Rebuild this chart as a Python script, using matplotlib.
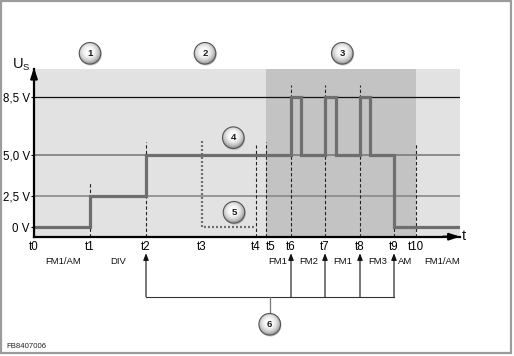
import numpy as np
import matplotlib
matplotlib.use('Agg')
import matplotlib.pyplot as plt
from matplotlib.patches import Circle, Rectangle

plt.rcParams['font.family'] = ['Liberation Sans', 'DejaVu Sans']

# ---------------- data ----------------
tick_labels = ['t0', 't1', 't2', 't3', 't4', 't5', 't6', 't7', 't8', 't9', 't10']
tick_times = [0, 5.6, 11.2, 16.8, 22.2, 23.2, 25.7, 29.1, 32.6, 36.0, 38.2]
t_end = 42.6

levels = [0, 2.5, 5.0, 8.5]
level_labels = ['0 V', '2,5 V', '5,0 V', '8,5 V']

signal_times = [0, 5.6, 11.2, 25.7, 26.7, 29.1, 30.2, 32.6, 33.6, 36.0, 42.6]
signal_volts = [0, 2.5, 5.0, 8.5, 5.0, 8.5, 5.0, 8.5, 5.0, 0, 0]

alt_times = [16.8, 16.8, 22.2]
alt_volts = [5.83, 0, 0]

# dashed marker lines: time, top voltage
marker_times = [5.6, 11.2, 22.2, 23.2, 25.7, 29.1, 32.6, 36.0, 38.2]
marker_tops = [3.33, 5.77, 5.6, 5.8, 9.25, 9.25, 9.25, 0.0, 5.7]

band_starts = [0, 23.2, 38.2]
band_ends = [23.2, 38.2, 42.6]
band_colors = ['#e2e2e2', '#c3c3c3', '#e2e2e2']

mode_labels = ['FM1/AM', 'DIV', 'FM1', 'FM2', 'FM1', 'FM3', 'AM', 'FM1/AM']
mode_times = [2.9, 8.4, 24.4, 27.5, 30.9, 34.4, 37.1, 40.8]

switch_times = [11.2, 25.7, 29.1, 32.6, 36.0]

# ---------------- scale (schematic voltage axis) ----------------
V_PTS = [-20.0, 0.0, 2.5, 30.0]
U_PTS = [9.4 - 20 * 15.667, 9.4, 41.0, 41.0 + 27.5 * 16.4]


def fwd(v):
    return np.interp(v, V_PTS, U_PTS)


def inv(u):
    return np.interp(u, U_PTS, V_PTS)


W, H = 514, 356
fig = plt.figure(figsize=(W / 100, H / 100), dpi=100)
fig.patch.set_facecolor('white')

ax = fig.add_axes([34 / W, 119.3 / H, 426 / W, 167.7 / H])
ax.set_yscale('function', functions=(fwd, inv))
ax.set_xlim(0, t_end)
ax.set_ylim(-0.6, 10.226)

for s, e, c in zip(band_starts, band_ends, band_colors):
    ax.axvspan(s, e, color=c, lw=0, zorder=0)

# level lines
ax.axhline(8.5, color='#111111', lw=0.9, zorder=1)
ax.axhline(5.0, color='#7c7c7c', lw=1.2, zorder=1)
ax.axhline(2.5, color='#8a8a8a', lw=1.2, zorder=1)

# dashed marker lines
ax.vlines(marker_times, -0.6, marker_tops, colors='#222222', lw=0.8,
          linestyles=(0, (3, 2)), zorder=2)

# alternative (dotted) path
ax.plot(alt_times, alt_volts, color='#6f6f6f', lw=1.6, ls=(0, (0.9, 0.9)), zorder=3)

# signal
ax.step(signal_times, signal_volts, where='post', color='#6e6e6e', lw=2.3,
        zorder=4, solid_joinstyle='miter')

# axes styling
for sp in ['top', 'right']:
    ax.spines[sp].set_visible(False)
for sp in ['left', 'bottom']:
    ax.spines[sp].set_linewidth(1.6)
    ax.spines[sp].set_color('black')
    ax.spines[sp].set_zorder(6)

ax.set_xticks(tick_times, tick_labels)
ax.tick_params(axis='x', length=0, pad=3, labelsize=8.3)
for lab in ax.get_xticklabels():
    if lab.get_text() == 't5':
        lab.set_horizontalalignment('left')
ax.set_yticks(levels, level_labels)
ax.tick_params(axis='y', length=2.5, width=0.8, pad=0.5, labelsize=8.3)
ax.minorticks_off()

# axis arrows
ax.annotate('', xy=(1.0, 0), xytext=(0.96, 0), xycoords='axes fraction',
            arrowprops=dict(arrowstyle='-|>,head_length=0.6,head_width=0.2',
                            color='black', lw=1.6, shrinkA=0, shrinkB=0,
                            mutation_scale=10), annotation_clip=False)
ax.annotate('', xy=(0, 1.008), xytext=(0, 0.95), xycoords='axes fraction',
            arrowprops=dict(arrowstyle='-|>,head_length=0.6,head_width=0.2',
                            color='black', lw=1.6, shrinkA=0, shrinkB=0,
                            mutation_scale=10), annotation_clip=False)

xt = ax.get_xaxis_transform()
for x, lab in zip(mode_times, mode_labels):
    ax.text(x, -0.149, lab, transform=xt, ha='center', va='center',
            fontsize=6.8, color='#111111', clip_on=False)

# switching arrows
for x in switch_times:
    ax.annotate('', xy=(x, -0.099), xytext=(x, -0.358), xycoords=xt,
                arrowprops=dict(arrowstyle='-|>,head_length=0.5,head_width=0.2',
                                color='#111111', lw=0.8, shrinkA=0, shrinkB=0,
                                mutation_scale=8), annotation_clip=False)
ax.plot([switch_times[0], switch_times[-1]], [-0.358, -0.358], transform=xt,
        color='#333333', lw=0.8, clip_on=False)

# ---------------- overlay ----------------
ov = fig.add_axes([0, 0, 1, 1], zorder=5)
ov.set_axis_off()
ov.patch.set_alpha(0)

ov.add_patch(Rectangle((1, 1), 509.5, 352, fill=False, ec='#9c9c9c', lw=1.6))

ov.text(13, 68.5, 'U', fontsize=10.5, va='baseline', ha='left', color='#111111')
ov.text(22.3, 69.5, 'S', fontsize=6.8, va='baseline', ha='left', color='#111111')
ov.text(462, 240, 't', fontsize=10.5, va='baseline', ha='left', color='#111111')
ov.text(6, 346.7, 'FB8407006', fontsize=5.6, va='center', ha='left', color='#222222')

# connector to callout 6
ov.plot([269.7, 269.7], [296.7, 313.5], color='#777777', lw=0.9)

yy, xx = np.mgrid[-1:1:64j, -1:1:64j]
d = np.sqrt((xx + 0.08) ** 2 + (yy + 0.12) ** 2)
grad = np.clip(1.0 - 0.33 * d ** 2.4, 0.55, 1)

callouts = [(90, 53.3, '1'), (205, 53.3, '2'), (342.3, 53.3, '3'),
            (233.3, 137.7, '4'), (234, 212.3, '5'), (269.7, 324.3, '6')]
r = 10.8
for cx, cy, n in callouts:
    # soft shadow
    ov.add_patch(Circle((cx + 0.6, cy + 1.0), r + 0.4, fc='#8a8a8a', ec='none',
                        alpha=0.5, zorder=6))
    c = Circle((cx, cy), r, transform=ov.transData, fc='none', ec='none')
    ov.add_patch(c)
    im = ov.imshow(grad, extent=(cx - r, cx + r, cy + r, cy - r), cmap='gray',
                   vmin=0, vmax=1, aspect='auto', interpolation='bilinear',
                   zorder=7)
    im.set_clip_path(c)
    ov.add_patch(Circle((cx, cy), r, fill=False, ec='#555555', lw=0.8, zorder=8))
    ov.text(cx, cy + 0.3, n, ha='center', va='center', fontsize=6.8,
            fontweight='bold', color='#1a1a1a', zorder=9)

ov.set_xlim(0, W)
ov.set_ylim(H, 0)

fig.savefig('out.png', dpi=100, facecolor='white')
